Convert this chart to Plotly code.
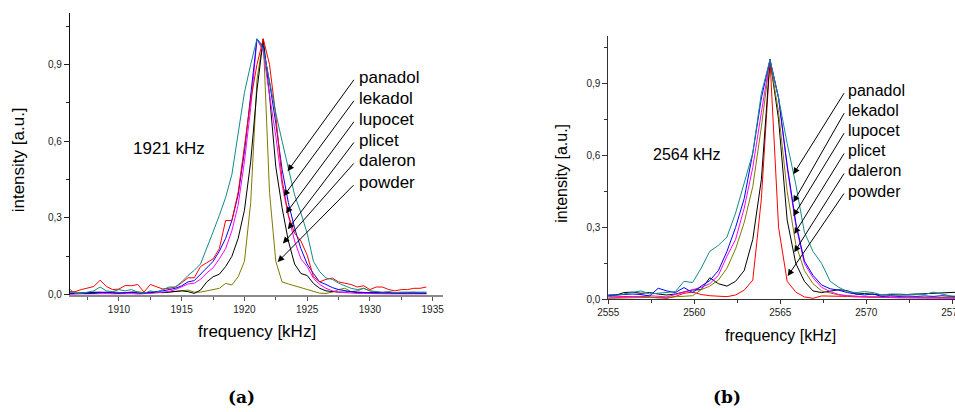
import plotly.graph_objects as go

W, H = 955, 412

# ---------------- data: panel (a), 1921 kHz line ----------------
freq_a = [1906.0, 1906.5, 1907.0, 1907.5, 1908.0, 1908.5, 1909.0, 1909.5, 1910.0, 1910.5,
          1911.0, 1911.5, 1912.0, 1912.5, 1913.0, 1913.5, 1914.0, 1914.5, 1915.0, 1915.5,
          1916.0, 1916.5, 1917.0, 1917.5, 1918.0, 1918.5, 1919.0, 1919.5, 1920.0, 1920.5,
          1921.0, 1921.5, 1922.0, 1922.5, 1923.0, 1923.5, 1924.0, 1924.5, 1925.0, 1925.5,
          1926.0, 1926.5, 1927.0, 1927.5, 1928.0, 1928.5, 1929.0, 1929.5, 1930.0, 1930.5,
          1931.0, 1931.5, 1932.0, 1932.5, 1933.0, 1933.5, 1934.0, 1934.5]

teal_a = [0.025, 0.005, 0.005, 0.010, 0.015, 0.030, 0.015, 0.012, 0.020, 0.015,
          0.020, 0.010, 0.005, 0.015, 0.010, 0.020, 0.030, 0.030, 0.050, 0.075,
          0.095, 0.120, 0.180, 0.245, 0.310, 0.380, 0.470, 0.640, 0.790, 0.900,
          1.000, 0.960, 0.830, 0.710, 0.600, 0.490, 0.390, 0.320, 0.240, 0.130,
          0.090, 0.065, 0.060, 0.045, 0.035, 0.025, 0.020, 0.025, 0.015, 0.012,
          0.010, 0.012, 0.008, 0.010, 0.010, 0.012, 0.010, 0.010]

red_a = [0.012, 0.012, 0.020, 0.025, 0.032, 0.057, 0.032, 0.020, 0.022, 0.036,
         0.035, 0.040, 0.010, 0.040, 0.030, 0.022, 0.025, 0.030, 0.047, 0.066,
         0.066, 0.110, 0.125, 0.140, 0.180, 0.290, 0.290, 0.400, 0.580, 0.760,
         0.900, 1.000, 0.900, 0.700, 0.450, 0.310, 0.240, 0.210, 0.155, 0.070,
         0.050, 0.060, 0.065, 0.050, 0.045, 0.040, 0.030, 0.035, 0.020, 0.030,
         0.030, 0.020, 0.015, 0.020, 0.020, 0.025, 0.025, 0.030]

blue_a = [0.005, 0.005, 0.004, 0.006, 0.005, 0.008, 0.010, 0.008, 0.006, 0.008,
          0.010, 0.008, 0.006, 0.010, 0.012, 0.015, 0.020, 0.025, 0.035, 0.050,
          0.055, 0.080, 0.105, 0.130, 0.170, 0.220, 0.290, 0.390, 0.560, 0.780,
          1.000, 0.970, 0.830, 0.670, 0.490, 0.360, 0.260, 0.180, 0.120, 0.083,
          0.050, 0.040, 0.028, 0.020, 0.015, 0.012, 0.010, 0.008, 0.008, 0.007,
          0.008, 0.007, 0.006, 0.007, 0.006, 0.006, 0.007, 0.006]

magenta_a = [0.000, 0.002, 0.003, 0.003, 0.004, 0.005, 0.004, 0.003, 0.004, 0.003,
             0.004, 0.002, 0.003, 0.005, 0.007, 0.010, 0.013, 0.020, 0.030, 0.042,
             0.045, 0.060, 0.085, 0.105, 0.140, 0.180, 0.250, 0.350, 0.520, 0.730,
             1.000, 0.950, 0.780, 0.620, 0.430, 0.310, 0.210, 0.140, 0.110, 0.064,
             0.040, 0.025, 0.015, 0.010, 0.008, 0.006, 0.005, 0.005, 0.004, 0.004,
             0.004, 0.003, 0.003, 0.004, 0.003, 0.003, 0.003, 0.003]

black_a = [0.005, 0.006, 0.005, 0.006, 0.008, 0.010, 0.008, 0.006, 0.005, 0.007,
           0.008, 0.006, 0.005, 0.008, 0.010, 0.008, 0.010, 0.012, 0.015, 0.012,
           0.005, 0.018, 0.050, 0.070, 0.080, 0.110, 0.150, 0.220, 0.330, 0.520,
           0.800, 1.000, 0.780, 0.500, 0.340, 0.210, 0.120, 0.083, 0.075, 0.044,
           0.025, 0.015, 0.012, 0.010, 0.010, 0.012, 0.008, 0.008, 0.007, 0.006,
           0.007, 0.006, 0.006, 0.007, 0.006, 0.006, 0.006, 0.006]

olive_a = [0.008, 0.006, 0.005, 0.008, 0.010, 0.008, 0.006, 0.012, 0.008, 0.005,
           0.010, 0.012, 0.008, 0.006, 0.010, 0.008, 0.010, 0.012, 0.015, 0.018,
           0.010, 0.010, 0.015, 0.020, 0.025, 0.044, 0.038, 0.070, 0.130, 0.360,
           0.840, 1.000, 0.400, 0.130, 0.050, 0.042, 0.035, 0.028, 0.020, 0.012,
           0.006, 0.005, 0.010, 0.020, 0.025, 0.012, 0.015, 0.025, 0.015, 0.010,
           0.008, 0.010, 0.008, 0.006, 0.008, 0.010, 0.006, 0.005]

# ---------------- data: panel (b), 2564 kHz line ----------------
freq_b = [2554.9, 2555.4, 2555.9, 2556.4, 2556.9, 2557.4, 2557.9, 2558.4, 2558.9, 2559.4,
          2559.9, 2560.4, 2560.9, 2561.4, 2561.9, 2562.4, 2562.9, 2563.4, 2563.9, 2564.4,
          2564.9, 2565.4, 2565.9, 2566.4, 2566.9, 2567.4, 2567.9, 2568.4, 2568.9, 2569.4,
          2569.9, 2570.4, 2570.9, 2571.4, 2571.9, 2572.4, 2572.9, 2573.4, 2573.9, 2574.4,
          2574.9, 2575.4]

teal_b = [0.012, 0.015, 0.022, 0.030, 0.035, 0.022, 0.026, 0.028, 0.032, 0.075,
          0.070, 0.130, 0.200, 0.225, 0.260, 0.360, 0.490, 0.610, 0.860, 1.000,
          0.840, 0.650, 0.480, 0.280, 0.200, 0.150, 0.075, 0.050, 0.032, 0.028,
          0.032, 0.028, 0.018, 0.022, 0.022, 0.020, 0.022, 0.020, 0.030, 0.022,
          0.014, 0.012]

blue_b = [0.018, 0.018, 0.020, 0.022, 0.020, 0.014, 0.046, 0.035, 0.028, 0.049,
          0.028, 0.055, 0.078, 0.120, 0.200, 0.300, 0.420, 0.610, 0.840, 1.000,
          0.840, 0.560, 0.320, 0.160, 0.100, 0.060, 0.044, 0.038, 0.028, 0.022,
          0.018, 0.022, 0.012, 0.015, 0.012, 0.014, 0.012, 0.014, 0.012, 0.015,
          0.012, 0.010]

magenta_b = [0.005, 0.006, 0.008, 0.010, 0.012, 0.015, 0.012, 0.010, 0.020, 0.030,
             0.040, 0.050, 0.065, 0.100, 0.180, 0.250, 0.380, 0.550, 0.780, 1.000,
             0.840, 0.550, 0.310, 0.150, 0.090, 0.050, 0.032, 0.020, 0.015, 0.012,
             0.010, 0.010, 0.008, 0.008, 0.006, 0.006, 0.005, 0.005, 0.005, 0.004,
             0.004, 0.004]

olive_b = [0.004, 0.005, 0.006, 0.008, 0.010, 0.008, 0.006, 0.008, 0.010, 0.012,
           0.015, 0.040, 0.055, 0.080, 0.130, 0.210, 0.320, 0.470, 0.720, 1.000,
           0.780, 0.450, 0.230, 0.120, 0.065, 0.035, 0.025, 0.018, 0.015, 0.012,
           0.010, 0.008, 0.008, 0.007, 0.006, 0.006, 0.006, 0.006, 0.006, 0.006,
           0.006, 0.006]

black_b = [0.014, 0.016, 0.028, 0.030, 0.025, 0.028, 0.022, 0.018, 0.022, 0.030,
           0.039, 0.040, 0.090, 0.065, 0.055, 0.075, 0.120, 0.250, 0.500, 1.000,
           0.750, 0.330, 0.150, 0.075, 0.035, 0.028, 0.035, 0.040, 0.036, 0.022,
           0.024, 0.022, 0.018, 0.020, 0.018, 0.020, 0.022, 0.025, 0.025, 0.028,
           0.030, 0.030]

red_b = [0.014, 0.012, 0.012, 0.011, 0.012, 0.010, 0.008, 0.004, 0.012, 0.025,
         0.030, 0.020, 0.015, 0.012, 0.011, 0.018, 0.038, 0.080, 0.420, 1.000,
         0.300, 0.075, 0.030, 0.010, 0.004, 0.014, 0.014, 0.012, 0.012, 0.010,
         0.010, 0.012, 0.010, 0.010, 0.008, 0.010, 0.008, 0.008, 0.010, 0.008,
         0.008, 0.008]

sample_names = ["panadol", "lekadol", "lupocet", "plicet", "daleron", "powder"]
y_ticks = [0.0, 0.3, 0.6, 0.9]
y_ticktext = ["0,0", "0,3", "0,6", "0,9"]
x_ticks_a = [1910, 1915, 1920, 1925, 1930, 1935]
x_ticks_b = [2555, 2560, 2565, 2570, 2575]

# arrow tips (data coords on the curves) for the label arrows
tip_a_x = [1923.44, 1923.12, 1923.31, 1923.46, 1923.07, 1922.65]
tip_a_y = [0.483, 0.385, 0.318, 0.256, 0.200, 0.128]
tip_b_x = [2565.76, 2565.76, 2565.76, 2565.81, 2565.81, 2565.43]
tip_b_y = [0.522, 0.405, 0.347, 0.272, 0.196, 0.097]

# ---------------- layout geometry (pixels) ----------------
A_X0, A_X1, A_Y0, A_Y1 = 70.0, 442.7, 294.7, 13.3      # panel a plot box (left,right,bottom,top)
B_X0, B_X1, B_Y0, B_Y1 = 608.3, 955.0, 299.3, 35.7     # panel b plot box
RANGE_A_X = [1906.1, 1935.8]
RANGE_B_X = [2555.0, 2555.0 + (B_X1 - B_X0) / 17.2]
RANGE_Y = [0.0, 1.1]


def to_px(v, r, p0, p1):
    return p0 + (v - r[0]) / (r[1] - r[0]) * (p1 - p0)


TEAL, RED, BLUE, MAG, BLK, OLV = "#138a8a", "#ff0000", "#0000ff", "#ff00ff", "#000000", "#7f7a00"

fig = go.Figure()


def add(x, y, color, xa, ya):
    fig.add_trace(go.Scatter(x=x, y=y, mode="lines", line=dict(color=color, width=1),
                             xaxis=xa, yaxis=ya, hoverinfo="skip", showlegend=False))


for ys, c in [(olive_a, OLV), (black_a, BLK), (magenta_a, MAG), (blue_a, BLUE), (red_a, RED), (teal_a, TEAL)]:
    add(freq_a, ys, c, "x", "y")
for ys, c in [(red_b, RED), (black_b, BLK), (olive_b, OLV), (magenta_b, MAG), (blue_b, BLUE), (teal_b, TEAL)]:
    add(freq_b, ys, c, "x2", "y2")


def px(v):
    return v / W


def py(v):
    return 1 - v / H


tickfont = dict(family="Liberation Sans, Arial", size=10, color="#222")

fig.update_layout(
    width=W, height=H, margin=dict(l=0, r=0, t=0, b=0, autoexpand=False),
    paper_bgcolor="white", plot_bgcolor="white", showlegend=False,
    xaxis=dict(domain=[px(A_X0), px(A_X1)], range=RANGE_A_X, anchor="y", automargin=False,
               tickvals=x_ticks_a, ticks="outside", ticklen=4, tickcolor="#555",
               showline=True, linecolor="#8a8a8a", linewidth=2, showgrid=False, zeroline=False,
               tickfont=tickfont, minor=dict(tickvals=[1907.5, 1912.5, 1917.5, 1922.5, 1927.5, 1932.5],
                                             ticks="outside", ticklen=3, tickcolor="#555")),
    yaxis=dict(domain=[py(A_Y0), py(A_Y1)], range=RANGE_Y, anchor="x", automargin=False,
               tickvals=y_ticks, ticktext=y_ticktext, ticks="outside", ticklen=5, tickcolor="#222",
               showline=True, linecolor="#111", linewidth=1.3, showgrid=False, zeroline=False,
               tickfont=tickfont, minor=dict(tickvals=[0.15, 0.45, 0.75, 1.05],
                                             ticks="outside", ticklen=3, tickcolor="#222")),
    xaxis2=dict(domain=[px(B_X0), 1.0], range=RANGE_B_X, anchor="y2", automargin=False,
                tickvals=x_ticks_b, ticks="outside", ticklen=4, tickcolor="#333",
                showline=True, linecolor="#333", linewidth=1, showgrid=False, zeroline=False,
                tickfont=tickfont, ticklabeloverflow="allow",
                minor=dict(tickvals=[2557.5, 2562.5, 2567.5, 2572.5],
                           ticks="outside", ticklen=3, tickcolor="#333")),
    yaxis2=dict(domain=[py(B_Y0), py(B_Y1)], range=RANGE_Y, anchor="x2", automargin=False,
                tickvals=y_ticks, ticktext=y_ticktext, ticks="outside", ticklen=5, tickcolor="#333",
                showline=True, linecolor="#333", linewidth=1, showgrid=False, zeroline=False,
                tickfont=tickfont, minor=dict(tickvals=[0.15, 0.45, 0.75, 1.05],
                                              ticks="outside", ticklen=3, tickcolor="#333")),
)

ann = []
lab_font_a = dict(family="Liberation Sans, Arial", size=17, color="black")
lab_font_b = dict(family="Liberation Sans, Arial", size=16, color="black")

# axis titles
ann.append(dict(text="intensity [a.u.]", x=px(18.3), y=py(160), xref="paper", yref="paper",
                showarrow=False, textangle=-90, font=lab_font_a, xanchor="center", yanchor="middle"))
ann.append(dict(text="frequency [kHz]", x=px(256.7), y=py(331.7), xref="paper", yref="paper",
                showarrow=False, font=lab_font_a, xanchor="center", yanchor="middle"))
ann.append(dict(text="intensity [a.u.]", x=px(561.7), y=py(173), xref="paper", yref="paper",
                showarrow=False, textangle=-90, font=lab_font_b, xanchor="center", yanchor="middle"))
ann.append(dict(text="frequency [kHz]", x=px(780), y=py(335), xref="paper", yref="paper",
                showarrow=False, font=lab_font_b, xanchor="center", yanchor="middle"))

# line frequency labels
ann.append(dict(text="1921 kHz", x=px(131), y=py(148), xref="paper", yref="paper",
                showarrow=False, font=lab_font_a, xanchor="left", yanchor="middle"))
ann.append(dict(text="2564 kHz", x=px(651), y=py(155), xref="paper", yref="paper",
                showarrow=False, font=lab_font_b, xanchor="left", yanchor="middle"))

# sub-figure labels
sub_font = dict(family="DejaVu Serif, Liberation Serif", size=17, color="black")
ann.append(dict(text="<b>(a)</b>", x=px(241), y=py(397), xref="paper", yref="paper",
                showarrow=False, font=sub_font, xanchor="center", yanchor="middle"))
ann.append(dict(text="<b>(b)</b>", x=px(727), y=py(397), xref="paper", yref="paper",
                showarrow=False, font=sub_font, xanchor="center", yanchor="middle"))

# sample labels + arrows
lab_y_a = [77.3, 98.3, 119.3, 140.0, 161.0, 182.7]
lab_y_b = [90.7, 110.7, 130.7, 151.0, 171.0, 191.0]
TAIL_A_X, TAIL_B_X = 355.0, 845.0
for i, name in enumerate(sample_names):
    ann.append(dict(text=name, x=px(357), y=py(lab_y_a[i]), xref="paper", yref="paper",
                    showarrow=False, font=lab_font_a, xanchor="left", yanchor="middle"))
    ann.append(dict(text=name, x=px(846), y=py(lab_y_b[i]), xref="paper", yref="paper",
                    showarrow=False, font=lab_font_b, xanchor="left", yanchor="middle"))
    tax = to_px(tip_a_x[i], RANGE_A_X, A_X0, A_X1)
    tay = to_px(tip_a_y[i], RANGE_Y, A_Y0, A_Y1)
    ann.append(dict(text="", x=tip_a_x[i], y=tip_a_y[i], xref="x", yref="y",
                    ax=TAIL_A_X - tax, ay=(lab_y_a[i] + 1) - tay, axref="pixel", ayref="pixel",
                    showarrow=True, arrowhead=2, arrowsize=1.3, arrowwidth=1, arrowcolor="black"))
    tbx = to_px(tip_b_x[i], RANGE_B_X, B_X0, B_X1)
    tby = to_px(tip_b_y[i], RANGE_Y, B_Y0, B_Y1)
    ann.append(dict(text="", x=tip_b_x[i], y=tip_b_y[i], xref="x2", yref="y2",
                    ax=TAIL_B_X - tbx, ay=(lab_y_b[i] + 1) - tby, axref="pixel", ayref="pixel",
                    showarrow=True, arrowhead=2, arrowsize=1.3, arrowwidth=1, arrowcolor="black"))

fig.update_layout(annotations=ann)
fig.write_html("out.html", config={"displayModeBar": False},
               post_script="document.body.style.margin='0';document.body.style.overflow='hidden';")
